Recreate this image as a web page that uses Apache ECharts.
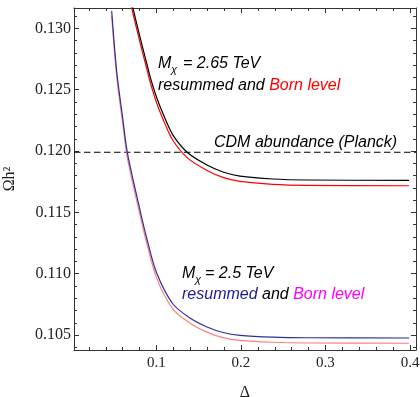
<!DOCTYPE html>
<html>
<head>
<meta charset="utf-8">
<script src="https://cdn.jsdelivr.net/npm/echarts@6/dist/echarts.min.js"></script>
<style>
  html, body { margin: 0; padding: 0; background: #fff; }
  #chart { width: 420px; height: 397px; }
</style>
</head>
<body>
<div id="chart"></div>
<script>
// M = 2.65 TeV curves
const deltaHeavy = [0.0693, 0.0725, 0.0805, 0.0884, 0.0923, 0.1, 0.1089, 0.1195, 0.1373, 0.1598, 0.1787, 0.1988, 0.2379, 0.2781, 0.3988];
const omegaHeavyResummed = [0.13258, 0.13157, 0.12929, 0.12717, 0.12611, 0.1244, 0.12285, 0.1213, 0.11984, 0.11886, 0.11829, 0.11796, 0.11772, 0.11764, 0.11761];
const omegaHeavyBorn = [0.13214, 0.13113, 0.12885, 0.12673, 0.12567, 0.12396, 0.12241, 0.12086, 0.1194, 0.11842, 0.11785, 0.11752, 0.11728, 0.1172, 0.11717];

// M = 2.5 TeV curves
const deltaLight = [0.047, 0.053, 0.06, 0.0657, 0.0805, 0.0884, 0.1002, 0.1195, 0.1396, 0.1598, 0.1787, 0.1988, 0.2379, 0.2781, 0.3988];
const omegaLightResummed = [0.13141, 0.12644, 0.12269, 0.11981, 0.11519, 0.11291, 0.11006, 0.10753, 0.10639, 0.10566, 0.10521, 0.10498, 0.10483, 0.10478, 0.10476];
const omegaLightBorn = [0.131, 0.12602, 0.12227, 0.11939, 0.11477, 0.11249, 0.10964, 0.10711, 0.10597, 0.10524, 0.10479, 0.10456, 0.10441, 0.10435, 0.10433];

const planckOmega = 0.1199;

const xRange = [0.0024, 0.4071];
const yRange = [0.10378, 0.13166];
const xMajorTicks = [0.1, 0.2, 0.3, 0.4];
const xMinorTicks = [0.02, 0.04, 0.06, 0.08, 0.12, 0.14, 0.16, 0.18, 0.22, 0.24, 0.26, 0.28, 0.32, 0.34, 0.36, 0.38];
const yMajorTicks = [0.105, 0.11, 0.115, 0.12, 0.125, 0.13];
const yMinorTicks = [0.104, 0.106, 0.107, 0.108, 0.109, 0.111, 0.112, 0.113, 0.114, 0.116, 0.117, 0.118, 0.119,
  0.121, 0.122, 0.123, 0.124, 0.126, 0.127, 0.128, 0.129, 0.131];

const zip = (xs, ys) => xs.map((x, i) => [x, ys[i]]);

const frameColor = "#333";
const serif = "Liberation Serif";
const sans = "Liberation Sans";

const makeAxis = (range, pos, ticks, len, withLine, extra) =>
  Object.assign(
    {
      type: "value",
      min: range[0],
      max: range[1],
      position: pos,
      axisLine: { show: withLine, onZero: false, lineStyle: { color: frameColor, width: 1 } },
      axisTick: { show: true, inside: true, length: len, customValues: ticks, lineStyle: { color: frameColor, width: 1 } },
      axisLabel: { show: false },
      splitLine: { show: false },
    },
    extra || {}
  );

const chart = echarts.init(document.getElementById("chart"));

const lineSeries = (name, data, color, width) => ({
  name,
  type: "line",
  data,
  symbol: "none",
  smooth: 0.3,
  clip: true,
  lineStyle: { color, width },
  z: 3,
});

chart.setOption({
  animation: false,
  grid: { left: 74, right: 4, top: 8, bottom: 47, containLabel: false, outerBoundsMode: "none" },
  xAxis: [
    makeAxis(xRange, "bottom", xMajorTicks, 5, true, {
      axisLabel: {
        show: true,
        customValues: xMajorTicks,
        formatter: (v) => v.toFixed(1),
        fontFamily: serif,
        fontSize: 15,
        color: "#222",
        margin: 6,
      },
      name: "Δ",
      nameLocation: "middle",
      nameGap: 35,
      nameTextStyle: { fontFamily: serif, fontSize: 16, color: "#222" },
    }),
    makeAxis(xRange, "bottom", xMinorTicks, 3, false),
    makeAxis(xRange, "top", xMajorTicks, 5, true),
    makeAxis(xRange, "top", xMinorTicks, 3, false),
  ],
  yAxis: [
    makeAxis(yRange, "left", yMajorTicks, 5, true, {
      axisLabel: {
        show: true,
        customValues: yMajorTicks,
        formatter: (v) => v.toFixed(3),
        fontFamily: serif,
        fontSize: 16,
        color: "#222",
        margin: 3,
      },
      name: "Ωh²",
      nameLocation: "middle",
      nameRotate: 90,
      nameGap: 56,
      nameTextStyle: { fontFamily: serif, fontSize: 16, color: "#222" },
    }),
    makeAxis(yRange, "left", yMinorTicks, 3, false),
    makeAxis(yRange, "right", yMajorTicks, 5, true),
    makeAxis(yRange, "right", yMinorTicks, 3, false),
  ],
  series: [
    {
      name: "Planck",
      type: "line",
      data: [[xRange[0], planckOmega], [xRange[1], planckOmega]],
      symbol: "none",
      lineStyle: { color: "#000", width: 1.2, type: [6.5, 3.5] },
      z: 2,
    },
    lineSeries("2.65 Born", zip(deltaHeavy, omegaHeavyBorn), "#ff0000", 1.2),
    lineSeries("2.65 resummed", zip(deltaHeavy, omegaHeavyResummed), "#000000", 1.2),
    lineSeries("2.5 Born", zip(deltaLight, omegaLightBorn), "#ff7f7f", 1.2),
    lineSeries("2.5 resummed", zip(deltaLight, omegaLightResummed), "#2e2e9c", 1.2),
  ],
  graphic: [
    { type: "text", left: 158, top: 56, style: { text: "M", font: "italic 16px " + sans, fill: "#000" } },
    { type: "text", left: 171, top: 64, style: { text: "χ", font: "italic 11px " + sans, fill: "#000" } },
    { type: "text", left: 183, top: 56, style: { text: "= 2.65 TeV", font: "italic 16px " + sans, fill: "#000" } },
    {
      type: "text", left: 158, top: 78,
      style: {
        text: "{k|resummed and }{r|Born level}",
        rich: {
          k: { fontFamily: sans, fontStyle: "italic", fontSize: 16, fill: "#000" },
          r: { fontFamily: sans, fontStyle: "italic", fontSize: 16, fill: "#ff0000" },
        },
      },
    },
    { type: "text", left: 214, top: 135, style: { text: "CDM abundance (Planck)", font: "italic 16px " + sans, fill: "#000" } },
    { type: "text", left: 182, top: 266, style: { text: "M", font: "italic 16px " + sans, fill: "#000" } },
    { type: "text", left: 195, top: 274, style: { text: "χ", font: "italic 11px " + sans, fill: "#000" } },
    { type: "text", left: 205, top: 266, style: { text: "= 2.5 TeV", font: "italic 16px " + sans, fill: "#000" } },
    {
      type: "text", left: 182, top: 287,
      style: {
        text: "{b|resummed}{k| and }{m|Born level}",
        rich: {
          b: { fontFamily: sans, fontStyle: "italic", fontSize: 16, fill: "#1c1c94" },
          k: { fontFamily: sans, fontStyle: "italic", fontSize: 16, fill: "#000" },
          m: { fontFamily: sans, fontStyle: "italic", fontSize: 16, fill: "#ff00ff" },
        },
      },
    },
  ],
});
</script>
</body>
</html>
